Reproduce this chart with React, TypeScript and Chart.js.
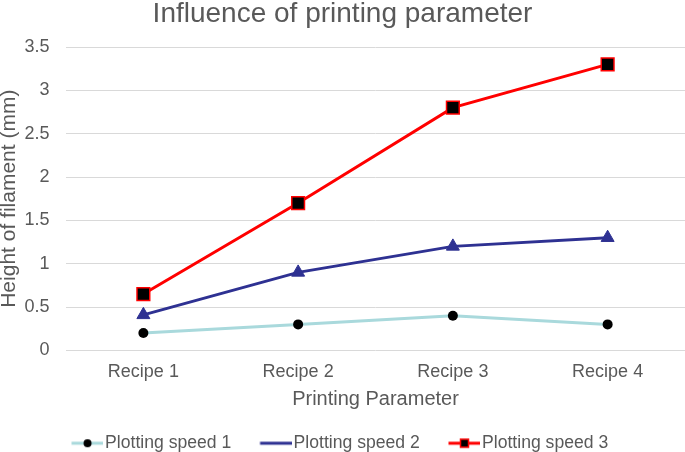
import React, { useEffect, useRef } from "react";
import { Chart, registerables } from "chart.js";

Chart.register(...registerables);

const categories = ["Recipe 1", "Recipe 2", "Recipe 3", "Recipe 4"];
const speed1 = [0.2, 0.3, 0.4, 0.3];
const speed2 = [0.41, 0.9, 1.2, 1.3];
const speed3 = [0.65, 1.7, 2.8, 3.3];
const seriesNames = ["Plotting speed 1", "Plotting speed 2", "Plotting speed 3"];
const yMin = 0;
const yMax = 3.5;
const yStep = 0.5;

const TEXT = "#595959";
const FONT = "'Liberation Sans', Arial, sans-serif";
const C1 = "#a9d9dc";
const C2 = "#2e3192";
const C3 = "#ff0000";
const LEGEND_BOX = 43.5;

function makeIcon(kind: number): HTMLCanvasElement {
  const W = LEGEND_BOX + 14;
  const H = 16;
  const c = document.createElement("canvas");
  c.width = W;
  c.height = H;
  const ctx = c.getContext("2d")!;
  const x0 = W - 32;
  const cx = x0 + 16;
  const cy = H / 2;
  ctx.lineWidth = 3;
  ctx.strokeStyle = kind === 0 ? C1 : kind === 1 ? C2 : C3;
  ctx.beginPath();
  ctx.moveTo(x0, cy);
  ctx.lineTo(W, cy);
  ctx.stroke();
  if (kind === 0) {
    ctx.fillStyle = "#000";
    ctx.beginPath();
    ctx.arc(cx, cy, 4, 0, Math.PI * 2);
    ctx.fill();
  } else if (kind === 2) {
    ctx.fillStyle = "#000";
    ctx.fillRect(cx - 4, cy - 4, 8, 8);
    ctx.lineWidth = 1.5;
    ctx.strokeStyle = C3;
    ctx.strokeRect(cx - 4, cy - 4, 8, 8);
  }
  return c;
}

const shiftLegend = {
  id: "shiftLegend",
  afterLayout(chart: any) {
    const lg = chart.legend;
    if (!lg) return;
    lg.top += 10;
    lg.bottom += 10;
    lg.left -= 12;
    lg.right -= 12;
  },
};

export default function App() {
  const ref = useRef<HTMLCanvasElement>(null);

  useEffect(() => {
    if (!ref.current) return;
    const icons = [makeIcon(0), makeIcon(1), makeIcon(2)];
    const chart = new Chart(ref.current, {
      type: "line",
      data: {
        labels: categories,
        datasets: [
          {
            label: seriesNames[0],
            data: speed1,
            borderColor: C1,
            borderWidth: 3,
            pointStyle: "circle",
            pointRadius: 5,
            pointBackgroundColor: "#000",
            pointBorderColor: "#000",
            pointBorderWidth: 0,
            tension: 0,
          },
          {
            label: seriesNames[1],
            data: speed2,
            borderColor: C2,
            borderWidth: 3,
            pointStyle: "triangle",
            pointRadius: 7.5,
            pointBackgroundColor: C2,
            pointBorderColor: C2,
            pointBorderWidth: 1,
            tension: 0,
          },
          {
            label: seriesNames[2],
            data: speed3,
            borderColor: C3,
            borderWidth: 3,
            pointStyle: "rect",
            pointRadius: 9,
            pointBackgroundColor: "#000",
            pointBorderColor: C3,
            pointBorderWidth: 1.5,
            tension: 0,
          },
        ],
      },
      options: {
        responsive: false,
        maintainAspectRatio: false,
        animation: false,
        layout: { padding: 0, autoPadding: false },
        plugins: {
          title: {
            display: true,
            text: "Influence of printing parameter",
            color: TEXT,
            font: { family: FONT, size: 28, weight: "normal", lineHeight: 1 },
            padding: { top: 0, bottom: 19 },
          },
          legend: {
            position: "bottom",
            labels: {
              usePointStyle: true,
              pointStyleWidth: LEGEND_BOX,
              color: TEXT,
              font: { family: FONT, size: 17.6 },
              padding: 10,
              generateLabels: () =>
                seriesNames.map((t, i) => ({
                  text: t,
                  pointStyle: icons[i],
                  fontColor: TEXT,
                  hidden: false,
                  datasetIndex: i,
                  lineWidth: 0,
                  strokeStyle: "rgba(0,0,0,0)",
                  fillStyle: "rgba(0,0,0,0)",
                })),
            },
          },
          tooltip: { enabled: false },
        },
        scales: {
          x: {
            type: "category",
            offset: true,
            grid: { display: false, drawTicks: false },
            border: { display: false },
            ticks: { color: TEXT, font: { family: FONT, size: 18 }, padding: 11 },
            title: {
              display: true,
              text: "Printing Parameter",
              color: TEXT,
              font: { family: FONT, size: 20 },
              padding: { top: 0, bottom: 3 },
            },
            afterFit: (s: any) => {
              s.height = 64;
              s.paddingLeft = 0;
              s.paddingRight = 0;
            },
          },
          y: {
            min: yMin,
            max: yMax,
            ticks: {
              stepSize: yStep,
              color: TEXT,
              font: { family: FONT, size: 18 },
              padding: 16.5,
              callback: (v: any) => String(Number(v)),
            },
            grid: { color: "#d9d9d9", lineWidth: 1, drawTicks: false },
            border: { display: false },
            title: {
              display: true,
              text: "Height of filament (mm)",
              color: TEXT,
              font: { family: FONT, size: 21, lineHeight: 0.905 },
              padding: 0,
            },
            afterFit: (s: any) => {
              s.width = 66;
            },
          },
        },
      } as any,
      plugins: [shiftLegend],
    });
    return () => chart.destroy();
  }, []);

  return (
    <div style={{ position: "absolute", left: 0, top: 0, width: 685, height: 452, background: "#fff" }}>
      <canvas ref={ref} width={685} height={452} style={{ display: "block" }} />
    </div>
  );
}
